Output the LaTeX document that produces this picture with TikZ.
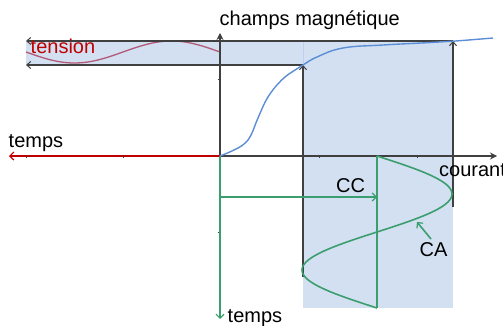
\documentclass[tikz,border=0pt]{standalone}
\usepackage{fontspec}
\setmainfont{Liberation Sans}
\usetikzlibrary{arrows.meta}
\definecolor{fillb}{HTML}{D3E0F1}
\definecolor{fillln}{HTML}{BDD0EC}
\definecolor{curveb}{HTML}{5B8ED6}
\definecolor{redax}{HTML}{C00000}
\definecolor{tensc}{HTML}{B45A78}
\definecolor{greenc}{HTML}{3A9E6E}
\definecolor{darkl}{HTML}{404040}
\tikzset{
  lbl/.style={anchor=base west, inner sep=0pt, font=\fontsize{20}{22}\selectfont},
  dk/.style={draw=darkl, line width=1.2pt},
  axis/.style={draw=darkl, line width=1.8pt},
  barb/.style={-{Straight Barb[length=4pt,width=7pt,line width=1pt]}},
  grn/.style={draw=greenc, line width=1.6pt},
  tick/.style={draw=darkl, line width=0.6pt}
}
\begin{document}
\begin{tikzpicture}[x=1pt,y=-1pt]
\useasboundingbox (0,0) rectangle (503,326);
% coordinates
\coordinate (O) at (220,156);
\coordinate (Ytop) at (220,33);
\coordinate (Xend) at (497,156);
\coordinate (Tl) at (9,156);
\coordinate (Tb) at (220,319);
\coordinate (P1) at (303,65);
\coordinate (P1b) at (303,277);
\coordinate (P2) at (453,41);
\coordinate (P2b) at (453,207);
\coordinate (L1) at (26,65);
\coordinate (L2) at (26,41);
\coordinate (G1) at (220,197);
\coordinate (G2) at (377,197);
\coordinate (S0) at (377,156);
\coordinate (S1) at (377,308);
\coordinate (CAa) at (431,239);
\coordinate (CAb) at (417,222);
% blue fills
\fill[fillb] (26,41) rectangle (453,65);
\fill[fillb] (303,41) rectangle (453,308);
\draw[fillln, line width=0.8pt] (303,41) -- (303,65);
% tension sine
\draw[tensc, line width=1.3pt] plot[domain=26:220, samples=80] (\x, {52+11*sin((\x-26)/194*360)});
% horizontal projection lines
\draw[dk, barb] (P2) -- (L2);
\draw[dk, barb] (P1) -- (L1);
\draw[dk, barb] (P1b) -- (P1);
\draw[dk, barb] (P2b) -- (P2);
% axes
\draw[axis, -{Stealth[length=7pt,width=7pt]}] (O) -- (Ytop);
\draw[axis, -{Stealth[length=7pt,width=7pt]}] (O) -- (Xend);
\draw[redax, line width=1.8pt, -{Straight Barb[length=4pt,width=8pt,line width=1.2pt]}] (O) -- (Tl);
% ticks
\draw[tick] (319,156) -- (319,158);
\draw[tick] (417,156) -- (417,158);
\draw[tick] (26,156) -- (26,158);
\draw[tick] (123,156) -- (123,158);
\draw[tick] (220,79) -- (218,79);
\draw[tick] (220,232) -- (218,232);
% magnetisation curve
\draw[curveb, line width=1.4pt] plot[smooth, tension=0.7] coordinates {(220,156) (233,150.5) (244,144) (251,135) (258,118) (268,97) (281.7,80) (295,70) (303,65) (317,57) (343,48) (383,45) (427,42.7) (453,41.2) (493,38)};
% green
\draw[grn, -{Straight Barb[length=4pt,width=8pt,line width=1.2pt]}] (O) -- (Tb);
\draw[grn, -{Straight Barb[length=4pt,width=8pt,line width=1.2pt]}] (G1) -- (G2);
\draw[grn] (S0) -- (S1);
\draw[grn] plot[domain=156:308, samples=100] ({377+75*sin((\x-156)/152*360)}, \x);
\draw[grn, -{Straight Barb[length=4pt,width=8pt,line width=1.2pt]}] (CAa) -- (CAb);
% labels
\node[lbl] (champ) at (219.5,26) {champs magnétique};
\node[lbl, text=redax] (tension) at (30.5,54) {tension};
\node[lbl] (temps1) at (8.5,147) {temps};
\node[lbl] (courant) at (439,176) {courant};
\node[lbl] (cc) at (336,192) {CC};
\node[lbl] (ca) at (419.5,256) {CA};
\node[lbl] (temps2) at (227.5,322) {temps};
\end{tikzpicture}
\end{document}
